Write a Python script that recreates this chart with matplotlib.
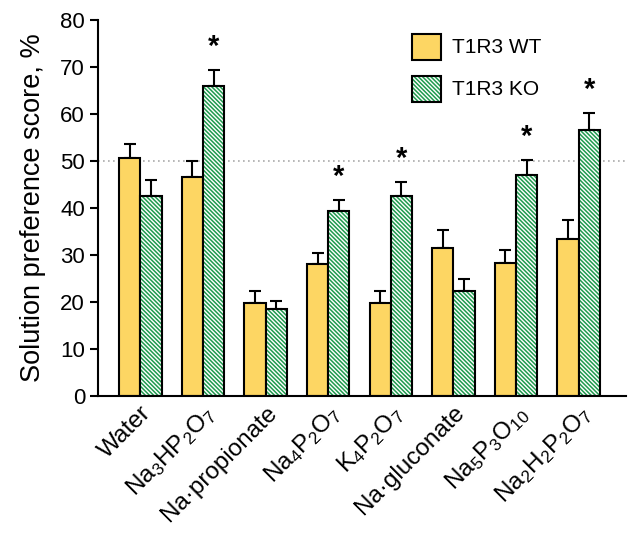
import numpy as np
import matplotlib
matplotlib.use("Agg")
import matplotlib.pyplot as plt

plt.rcParams['font.family'] = ['Liberation Sans', 'DejaVu Sans']
plt.rcParams['mathtext.default'] = 'regular'
plt.rcParams['hatch.linewidth'] = 1.1

categories = ['Water', r'Na$_3$HP$_2$O$_7$', 'Na·propionate', r'Na$_4$P$_2$O$_7$',
              r'K$_4$P$_2$O$_7$', 'Na·gluconate', r'Na$_5$P$_3$O$_{10}$', r'Na$_2$H$_2$P$_2$O$_7$']
wt_values = [50.6, 46.6, 19.8, 28.1, 19.8, 31.5, 28.3, 33.5]
wt_err = [3.0, 3.4, 2.6, 2.4, 2.6, 3.8, 2.7, 4.0]
ko_values = [42.5, 66.0, 18.5, 39.4, 42.5, 22.4, 47.0, 56.5]
ko_err = [3.4, 3.3, 1.7, 2.3, 3.0, 2.5, 3.1, 3.7]
significant = [False, True, False, True, True, False, True, True]

green = '#1f9a4e'
yellow = '#fdd663'
hatch = '\\\\\\\\\\\\\\\\'

x = np.arange(len(categories))
w = 0.34

fig = plt.figure(figsize=(6.34, 5.36), dpi=100)
ax = fig.add_axes([0.155, 0.261, 0.832, 0.702])

ax.axhline(50, color='#aaaaaa', linestyle=(0, (1, 2)), linewidth=1.2, zorder=0)

# WT bars
ax.bar(x - w / 2, wt_values, w, color=yellow, edgecolor='black', linewidth=1.5, zorder=2)
ax.errorbar(x - w / 2, wt_values, yerr=[np.zeros(len(x)), wt_err], fmt='none',
            ecolor='black', elinewidth=1.5, capsize=4, capthick=1.5, zorder=1)

# KO bars: hatch in green, outline in black
ax.bar(x + w / 2, ko_values, w, color='white', edgecolor=green, hatch=hatch, linewidth=0, zorder=2)
ax.bar(x + w / 2, ko_values, w, fill=False, edgecolor='black', linewidth=1.5, zorder=3)
ax.errorbar(x + w / 2, ko_values, yerr=[np.zeros(len(x)), ko_err], fmt='none',
            ecolor='black', elinewidth=1.5, capsize=4, capthick=1.5, zorder=1)

for i, s in enumerate(significant):
    if s:
        ax.text(x[i] + w / 2, ko_values[i] + ko_err[i] + 2.0, '*', ha='center', va='bottom',
                fontsize=21, fontweight='bold')

# legend drawn as boxes + text
ax.bar([4.57], [5.5], 0.45, bottom=[71.5], color=yellow, edgecolor='black', linewidth=1.5, zorder=3)
ax.bar([4.57], [5.5], 0.45, bottom=[62.5], color='white', edgecolor=green, hatch=hatch,
       linewidth=0, zorder=3)
ax.bar([4.57], [5.5], 0.45, bottom=[62.5], fill=False, edgecolor='black', linewidth=1.5, zorder=4)
ax.text(4.97, 74.2, 'T1R3 WT', fontsize=15, va='center')
ax.text(4.97, 65.2, 'T1R3 KO', fontsize=15, va='center')

ax.set_xlim(-0.67, 7.75)
ax.set_ylim(0, 80)
ax.set_yticks(range(0, 81, 10))
ax.set_xticks(x)
ax.set_xticklabels(categories, rotation=45, ha='right', rotation_mode='anchor', fontsize=17.5)
ax.tick_params(axis='y', labelsize=16, direction='out', length=6, width=1.5)
ax.tick_params(axis='x', length=0, pad=4)
for lab in ax.get_xticklabels():
    lab.set_x(0)
ax.set_ylabel('Solution preference score, %', fontsize=19.5, labelpad=10)

ax.spines['top'].set_visible(False)
ax.spines['right'].set_visible(False)
ax.spines['left'].set_linewidth(1.5)
ax.spines['bottom'].set_linewidth(1.5)

fig.savefig('out.png', dpi=100)
